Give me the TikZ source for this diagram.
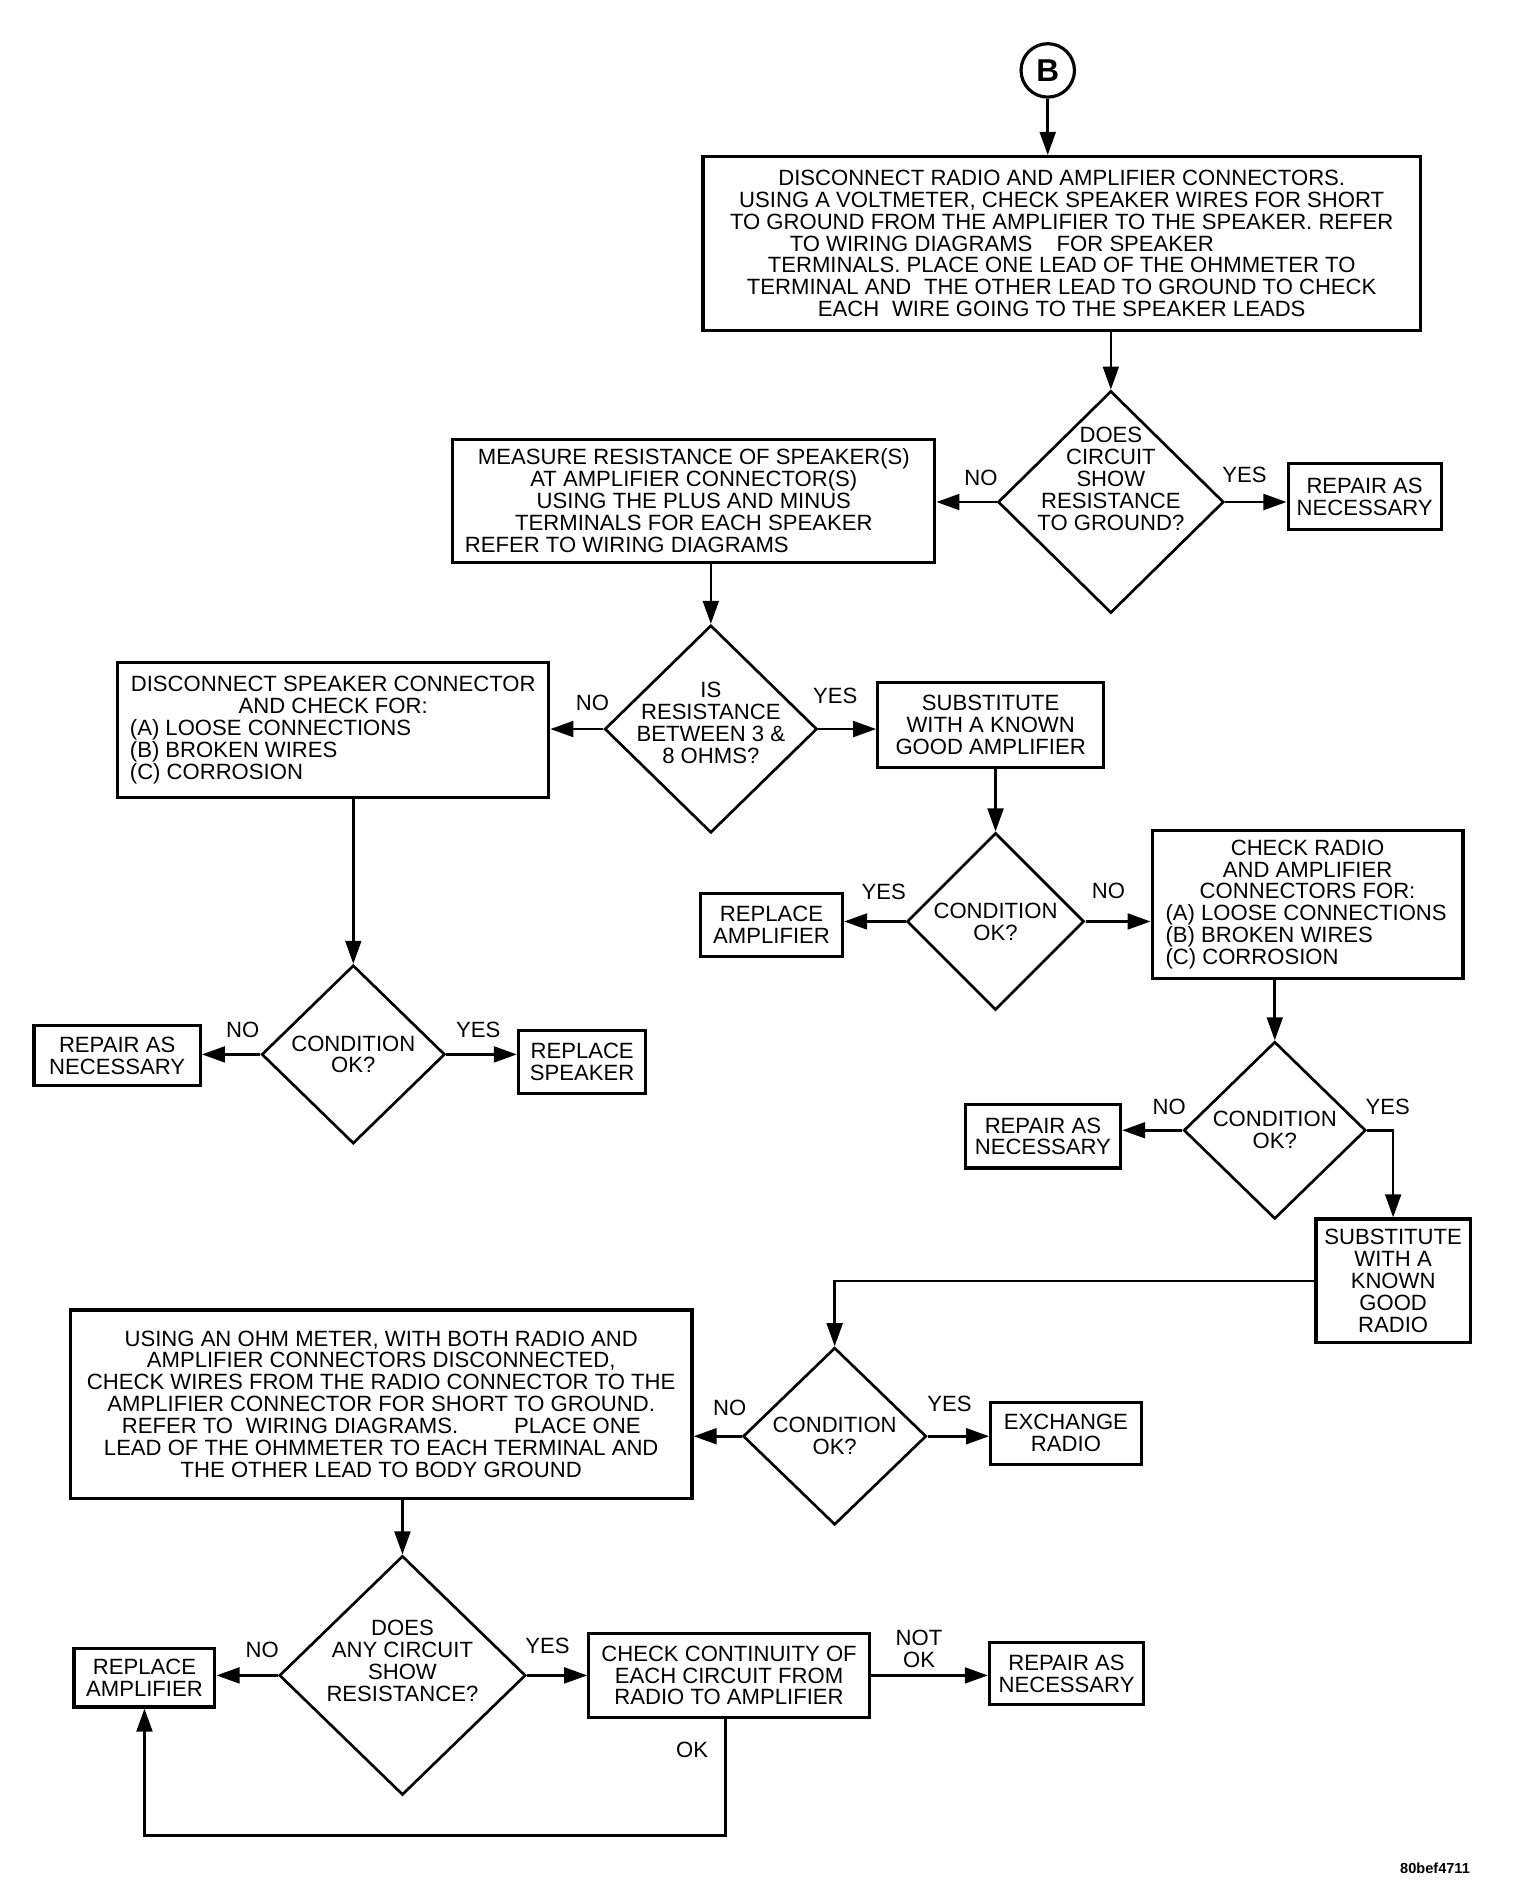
\documentclass[tikz,border=0pt]{standalone}
\usepackage{fontspec}
\setmainfont{Liberation Sans}
\usetikzlibrary{shapes.geometric,arrows.meta,calc}
\newcommand\fz{\fontsize{18.2}{18}\selectfont}
\begin{document}
\begin{tikzpicture}[x=1pt,y=-1pt,
  every node/.style={font=\fz, inner sep=0pt},
  box/.style={draw, line width=2.6pt, align=center},
  dia/.style={draw, diamond, line width=2.2pt, inner sep=0pt},
  arr/.style={line width=2.2pt, -{Triangle[length=19pt,width=13pt]}},
  ln/.style={line width=2.2pt}]
\useasboundingbox[fill=white] (0,0) rectangle (1252,1565);

% start
\node[draw, circle, line width=2.6pt, minimum size=44pt, font=\fontsize{26}{26}\selectfont\bfseries] (B) at (863,58) {B};

\node[box, minimum width=591pt, minimum height=143pt] (b1) at (874.5,200.5)
 {DISCONNECT RADIO AND AMPLIFIER CONNECTORS.\\
  USING A VOLTMETER, CHECK SPEAKER WIRES FOR SHORT\\
  TO GROUND FROM THE AMPLIFIER TO THE SPEAKER. REFER\\
  \makebox[448pt][l]{TO WIRING DIAGRAMS\hspace{1.1em}FOR SPEAKER}\\
  TERMINALS. PLACE ONE LEAD OF THE OHMMETER TO\\
  TERMINAL AND\hspace{0.3em} THE OTHER LEAD TO GROUND TO CHECK\\
  EACH\hspace{0.3em} WIRE GOING TO THE SPEAKER LEADS};

\node[dia, minimum width=186pt, minimum height=183pt,
  label={[align=center,yshift=19pt]center:DOES\\CIRCUIT\\SHOW\\RESISTANCE\\TO GROUND?}] (d1) at (915,413.5) {};

\node[box, minimum width=126pt, minimum height=54pt] (r1) at (1124,409) {REPAIR AS\\NECESSARY};

\node[box, minimum width=397pt, minimum height=101pt] (b2) at (571.5,412.5)
 {MEASURE RESISTANCE OF SPEAKER(S)\\
  AT AMPLIFIER CONNECTOR(S)\\
  USING THE PLUS AND MINUS\\
  TERMINALS FOR EACH SPEAKER\\
  \makebox[377pt][l]{REFER TO WIRING DIAGRAMS}};

\node[dia, minimum width=175pt, minimum height=171pt,
  label={[align=center,yshift=5pt]center:IS\\RESISTANCE\\BETWEEN 3 \&\\8 OHMS?}] (d2) at (585.5,600.5) {};

\node[box, minimum width=355pt, minimum height=111pt, align=left] (b4) at (274.5,601.5)
 {\makebox[335pt]{DISCONNECT SPEAKER CONNECTOR}\\
  \makebox[335pt]{AND CHECK FOR:}\\
  (A) LOOSE CONNECTIONS\\
  (B) BROKEN WIRES\\
  (C) CORROSION};

\node[box, minimum width=186pt, minimum height=70pt] (b5) at (816,597)
 {SUBSTITUTE\\WITH A KNOWN\\GOOD AMPLIFIER};

\node[dia, minimum width=146pt, minimum height=146pt,
  label={[align=center]center:CONDITION\\OK?}] (d3) at (820,759) {};

\node[box, minimum width=117pt, minimum height=52pt] (b6) at (635.5,762) {REPLACE\\AMPLIFIER};

\node[box, minimum width=256pt, minimum height=122pt, align=left] (b7) at (1077,745)
 {\makebox[234pt]{CHECK RADIO}\\
  \makebox[234pt]{AND AMPLIFIER}\\
  \makebox[234pt]{CONNECTORS FOR:}\\
  (A) LOOSE CONNECTIONS\\
  (B) BROKEN WIRES\\
  (C) CORROSION};

\node[dia, minimum width=151pt, minimum height=147pt,
  label={[align=center]center:CONDITION\\OK?}] (dL) at (291,868.5) {};

\node[box, minimum width=137pt, minimum height=49pt] (rL) at (96.5,869.5) {REPAIR AS\\NECESSARY};
\node[box, minimum width=105pt, minimum height=52pt] (sL) at (479.5,875) {REPLACE\\SPEAKER};

\node[dia, minimum width=150pt, minimum height=146pt,
  label={[align=center]center:CONDITION\\OK?}] (d5) at (1050,931) {};

\node[box, minimum width=128pt, minimum height=52pt] (r5) at (859,936) {REPAIR AS\\NECESSARY};
\node[box, minimum width=127pt, minimum height=102pt] (b9) at (1147.5,1055)
 {SUBSTITUTE\\WITH A\\KNOWN\\GOOD\\RADIO};

\node[dia, minimum width=151pt, minimum height=146pt,
  label={[align=center]center:CONDITION\\OK?}] (d6) at (687.5,1183) {};

\node[box, minimum width=512pt, minimum height=155pt] (b10) at (314,1156.5)
 {USING AN OHM METER, WITH BOTH RADIO AND\\
  AMPLIFIER CONNECTORS DISCONNECTED,\\
  CHECK WIRES FROM THE RADIO CONNECTOR TO THE\\
  AMPLIFIER CONNECTOR FOR SHORT TO GROUND.\\
  REFER TO\hspace{0.3em} WIRING DIAGRAMS.\hspace{46pt}PLACE ONE\\
  LEAD OF THE OHMMETER TO EACH TERMINAL AND\\
  THE OTHER LEAD TO BODY GROUND};

\node[box, minimum width=124pt, minimum height=51pt] (b11) at (878,1180.5) {EXCHANGE\\RADIO};

\node[dia, minimum width=203pt, minimum height=197pt,
  label={[align=center,yshift=12pt]center:DOES\\ANY CIRCUIT\\SHOW\\RESISTANCE?}] (d7) at (331.5,1380) {};

\node[box, minimum width=116pt, minimum height=48pt] (b12) at (119,1382) {REPLACE\\AMPLIFIER};
\node[box, minimum width=231pt, minimum height=69pt] (b13) at (600.5,1380)
 {CHECK CONTINUITY OF\\EACH CIRCUIT FROM\\RADIO TO AMPLIFIER};
\node[box, minimum width=127pt, minimum height=51pt] (b14) at (878.5,1378.5) {REPAIR AS\\NECESSARY};

% connectors
\draw[arr] (B) -- (b1.north -| B);
\draw[arr] (d1.north |- b1.south) -- (d1.north);
\draw[arr] (d1.west) -- (d1.west -| b2.east);
\draw[arr] (d1.east) -- (d1.east -| r1.west);
\draw[arr] (d2.north |- b2.south) -- (d2.north);
\draw[arr] (d2.west) -- (d2.west -| b4.east);
\draw[arr] (d2.east) -- (d2.east -| b5.west);
\draw[arr] (d3.north |- b5.south) -- (d3.north);
\draw[arr] (d3.west) -- (d3.west -| b6.east);
\draw[arr] (d3.east) -- (d3.east -| b7.west);
\draw[arr] (dL.north |- b4.south) -- (dL.north);
\draw[arr] (dL.west) -- (dL.west -| rL.east);
\draw[arr] (dL.east) -- (dL.east -| sL.west);
\draw[arr] (d5.north |- b7.south) -- (d5.north);
\draw[arr] (d5.west) -- (d5.west -| r5.east);
\draw[arr] (d5.east) -| (b9.north);
\draw[arr] (b9.west) -| (d6.north);
\draw[arr] (d6.west) -- (d6.west -| b10.east);
\draw[arr] (d6.east) -- (d6.east -| b11.west);
\draw[arr] (d7.north |- b10.south) -- (d7.north);
\draw[arr] (d7.west) -- (d7.west -| b12.east);
\draw[arr] (d7.east) -- (d7.east -| b13.west);
\draw[arr] (b13.east) -- (b13.east -| b14.west);
\coordinate (loop) at ($(b13.south)+(-3,96)$);
\draw[arr] ($(b13.south)+(-3,0)$) -- (loop) -| (b12.south);

% branch labels
\node (l1) at (808,394) {NO};
\node (l2) at (1025,391) {YES};
\node (l3) at (488,579) {NO};
\node (l4) at (688,573) {YES};
\node (l5) at (728,735) {YES};
\node (l6) at (913,734) {NO};
\node (l7) at (200,848) {NO};
\node (l8) at (394,848) {YES};
\node (l9) at (963,912) {NO};
\node (l10) at (1143,912) {YES};
\node (l11) at (601,1160) {NO};
\node (l12) at (782,1156) {YES};
\node (l13) at (216,1359) {NO};
\node (l14) at (451,1356) {YES};
\node[align=center] (l15) at (757,1358) {NOT\\OK};
\node (l16) at (570,1441) {OK};

\node[font=\fontsize{12}{12}\selectfont\bfseries] (id) at (1182,1539) {80bef4711};
\end{tikzpicture}
\end{document}
